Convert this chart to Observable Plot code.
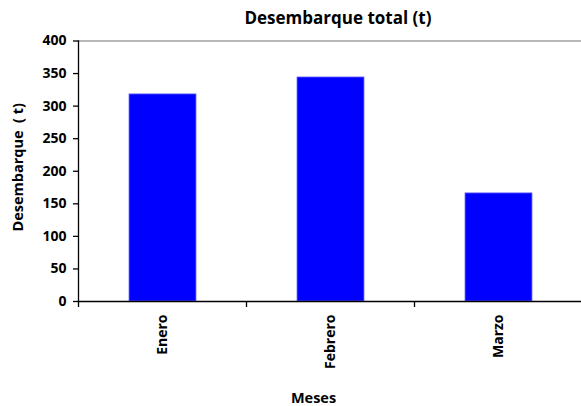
<!DOCTYPE html>
<html>
<head>
<meta charset="utf-8">
<script src="https://cdn.jsdelivr.net/npm/d3@7"></script>
<script src="https://cdn.jsdelivr.net/npm/@observablehq/plot@0.6"></script>
<style>
  html, body { margin: 0; padding: 0; background: #fff; overflow: hidden; }
  #chart { width: 581px; height: 406px; overflow: hidden; position: relative; }
  .title { position: absolute; top: 6px; left: 98px; width: 480px; text-align: center;
           font: bold 17px "Open Sans", sans-serif; color: #000; }
  #chart svg { position: absolute; top: 0; left: 0; max-width: none !important; width: 584px !important; height: 406px !important; }
</style>
</head>
<body>
<div id="chart"><div class="title" id="title"></div></div>
<script>
const months = ["Enero", "Febrero", "Marzo"];
const landings = [318, 344, 166];
const yTicks = [0, 50, 100, 150, 200, 250, 300, 350, 400];
const title = "Desembarque total (t)";
const yLabel = "Desembarque  ( t)";
const xLabel = "Meses";

document.getElementById("title").textContent = title;
const data = months.map((m, i) => ({month: m, value: landings[i]}));

// boundary ticks on the x axis (between categories)
const boundaryTicks = (index, scales, values, dims) => {
  const g = d3.create("svg:g");
  const bw = scales.x.bandwidth();
  const step = scales.x.step();
  const y0 = scales.y(0);
  months.forEach(m => {
    const xs = scales.x(m) - (step - bw) / 2;
    g.append("line").attr("x1", xs).attr("x2", xs).attr("y1", y0).attr("y2", y0 + 6)
      .attr("stroke", "#000").attr("stroke-width", 1.3);
  });
  return g.node();
};

const chart = Plot.plot({
  width: 584,
  height: 406,
  marginLeft: 78,
  marginRight: 0,
  marginTop: 40.5,
  marginBottom: 105,
  style: {fontFamily: "'Open Sans', sans-serif", fontWeight: "bold", fontSize: "14px", color: "#000", background: "transparent"},
  x: {domain: months, paddingInner: 0.6, paddingOuter: 0.3, label: null},
  y: {domain: [0, 400], label: null},
  marks: [
    Plot.barY(data, {x: "month", y: "value", fill: "#0000FF", stroke: "#6f6fff", strokeWidth: 0.8}),
    Plot.ruleY([400], {stroke: "#a0a0a0", strokeWidth: 1.5}),
    Plot.ruleY([0], {stroke: "#000", strokeWidth: 1.3}),
    Plot.frame({anchor: "left", stroke: "#000", strokeWidth: 1.3}),
    Plot.axisY({ticks: yTicks, tickSize: 5, tickPadding: 7, label: null, stroke: "#000", strokeWidth: 1.3, fontSize: 14, fontWeight: "bold"}),
    Plot.axisX({tickSize: 0, tickRotate: -90, tickPadding: 13, label: null, fontSize: 14, fontWeight: "bold"}),
    boundaryTicks,
    Plot.text([yLabel], {frameAnchor: "left", textAnchor: "middle", dx: -60, dy: -4, rotate: -90, text: d => d, fontSize: 14.5, fontWeight: "bold"}),
    Plot.text([xLabel], {frameAnchor: "bottom", lineAnchor: "middle", dy: 97, dx: -18, text: d => d, fontSize: 14.5, fontWeight: "bold"})
  ]
});
document.getElementById("chart").appendChild(chart);
</script>
</body>
</html>
